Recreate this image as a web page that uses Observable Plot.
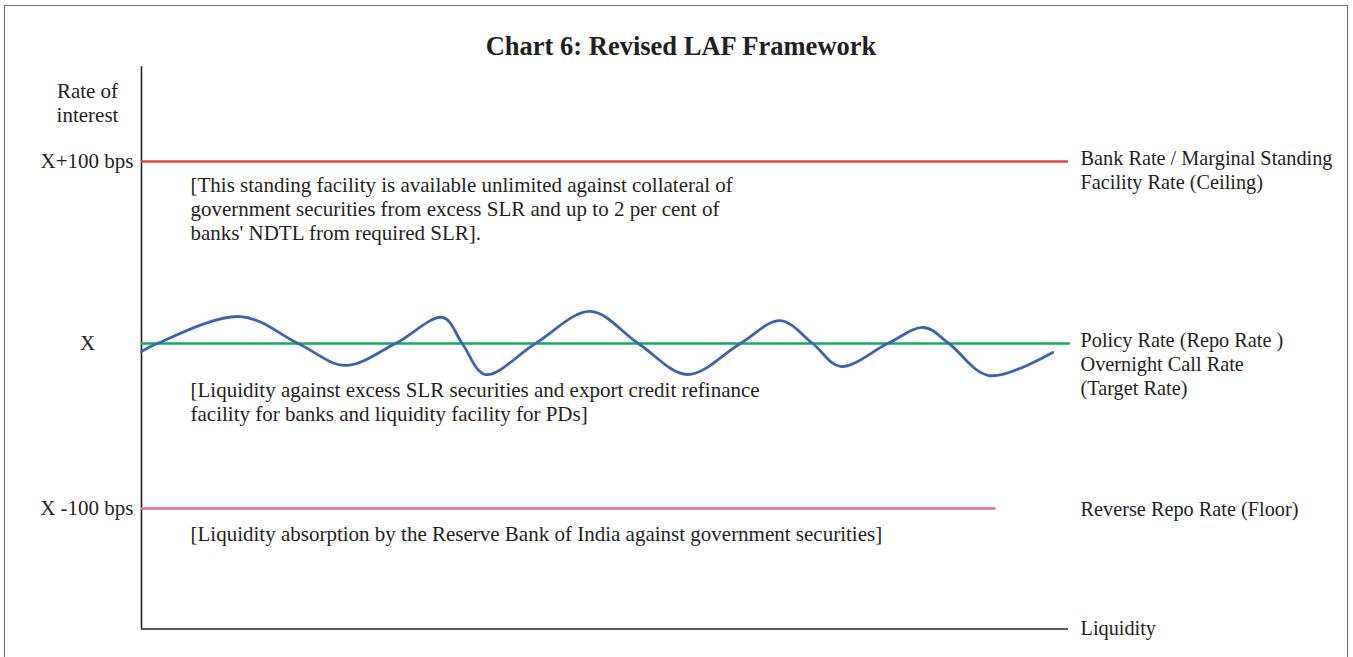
<!DOCTYPE html>
<html>
<head>
<meta charset="utf-8">
<script src="https://cdn.jsdelivr.net/npm/d3@7"></script>
<script src="https://cdn.jsdelivr.net/npm/@observablehq/plot@0.6"></script>
<style>
  html, body { margin: 0; padding: 0; background: #fff; }
  #wrap { position: relative; width: 1353px; height: 657px; overflow: hidden; }
  #border { position: absolute; left: 4px; top: 5px; width: 1344px; height: 700px;
            border: 1.5px solid #707070; border-bottom: none; box-sizing: border-box; }
  #chart { position: absolute; left: 0; top: 0; }
</style>
</head>
<body>
<div id="wrap"><div id="border"></div><div id="chart"></div></div>
<script>
// ---- data ----
const title = "Chart 6: Revised LAF Framework";
const rateLevels = [100, 0, -100];            // bps relative to policy rate X
const levelTicks = ["X+100 bps", "X", "X -100 bps"];
const levelEnds = [100, 100.2, 92.2];          // liquidity extent of each line
const levelColors = ["#e8433a", "#12ad5c", "#ea6aa2"];
const levelLabels = [
  "Bank Rate / Marginal Standing\nFacility Rate (Ceiling)",
  "Policy Rate (Repo Rate )\nOvernight Call Rate\n(Target Rate)",
  "Reverse Repo Rate (Floor)"
];
const levelNotes = [
  "[This standing facility is available unlimited against collateral of\ngovernment securities from excess SLR and up to 2 per cent of\nbanks' NDTL from required SLR].",
  "[Liquidity against excess SLR securities and export credit refinance\nfacility for banks and liquidity facility for PDs]",
  "[Liquidity absorption by the Reserve Bank of India against government securities]"
];
// overnight call rate path (illustrative)
const liquidity = [0, 1.7, 10.7, 16.9, 22.0, 27.4, 32.5, 34.6, 37.1, 42.5, 48.4, 53.6, 58.9, 64.6, 68.9, 72.4, 75.4, 80.5, 84.4, 87.1, 91.4, 98.3];
const callRate  = [-4.8, 0, 14.8, 0, -13.3, 0, 14.3, 0, -18.8, 0, 17.6, 0, -18.8, 0, 12.6, 0, -13.9, 0, 8.8, 0, -19.4, -5.5];
const yAxisLabel = "Rate of\ninterest";
const xAxisLabel = "Liquidity";
const rateFloor = -173, rateTop = 152;

// ---- build ----
const levels = rateLevels.map((r, i) => ({rate: r, tick: levelTicks[i], end: levelEnds[i], color: levelColors[i], label: levelLabels[i], note: levelNotes[i]}));
const path = liquidity.map((x, i) => ({x, y: callRate[i]}));
const font = "Liberation Serif";
const ink = "#231f20";
const fs = 21;
const fsR = 20.3;
const lh = 24 / fs;
const lhR = 24 / fsR;

const labelDy = [8, 19.5, 0];
const noteDy = [47, 58, 25];

const chart = Plot.plot({
  width: 1353, height: 657,
  marginLeft: 141, marginRight: 285, marginTop: 67, marginBottom: 29,
  style: {fontFamily: font, fontSize: fs + "px", color: ink, background: "transparent"},
  x: {type: "linear", domain: [0, 100], axis: null},
  y: {type: "linear", domain: [-100, 0, 100], range: [508, 343, 161], axis: null},
  marks: [
    // axes
    Plot.ruleX([0], {y1: rateFloor, y2: rateTop, stroke: ink, strokeWidth: 1.6}),
    Plot.ruleY([rateFloor], {x1: 0, x2: 100, stroke: ink, strokeWidth: 1.6}),
    // rate corridor lines
    Plot.ruleY(levels, {y: "rate", x1: 0, x2: "end", stroke: "color", strokeWidth: 2.4}),
    // call rate
    Plot.line(path, {x: "x", y: "y", curve: "catmull-rom", stroke: "#3b63b0", strokeWidth: 2.8}),
    // tick labels
    Plot.text(levels.filter(d => d.tick !== "X"), {x: 0, y: "rate", text: "tick", textAnchor: "end", dx: -8, fill: ink, fontSize: fs}),
    Plot.text(levels.filter(d => d.tick === "X"), {x: 0, y: "rate", text: "tick", textAnchor: "middle", dx: -54, fill: ink, fontSize: fs}),
    Plot.text([yAxisLabel], {x: 0, y: rateTop, text: d => d, textAnchor: "middle", lineAnchor: "middle", lineHeight: lh, dx: -54, dy: 35, fill: ink, fontSize: fs}),
    // right labels and notes, one mark per level
    ...levels.map((d, i) => Plot.text([d], {x: 100, y: "rate", text: "label", textAnchor: "start", lineAnchor: "middle",
      lineHeight: lhR, dx: 12, dy: labelDy[i], fill: ink, fontSize: fsR})),
    ...levels.map((d, i) => Plot.text([d], {x: 0, y: "rate", text: "note", textAnchor: "start", lineAnchor: "middle",
      lineHeight: lh, dx: 49, dy: noteDy[i], fill: ink, fontSize: fs})),
    Plot.text([xAxisLabel], {x: 100, y: rateFloor, text: d => d, textAnchor: "start", dx: 12, fill: ink, fontSize: fsR}),
    // title
    Plot.text([title], {frameAnchor: "top", text: d => d, lineAnchor: "middle", dx: 76, dy: -21, fontWeight: "bold", fontSize: 26.5, fill: ink})
  ]
});
document.getElementById("chart").appendChild(chart);
</script>
</body>
</html>
